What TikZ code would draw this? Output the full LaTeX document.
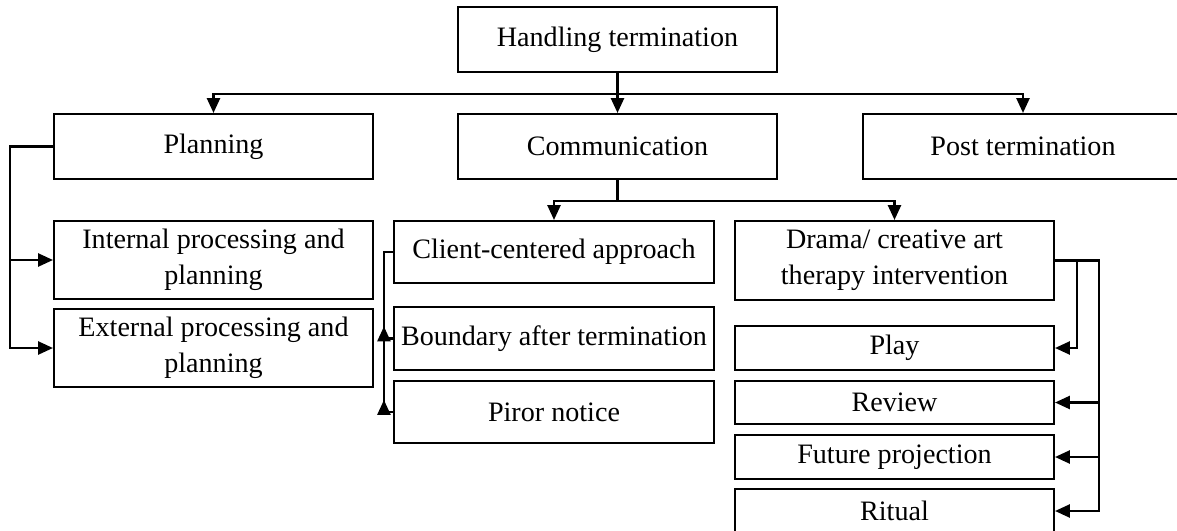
\documentclass[tikz,border=0pt]{standalone}
\usepackage{fontspec}
\setmainfont{Liberation Serif}
\usepackage{tikz}
\usetikzlibrary{arrows.meta, calc}

\begin{document}
\begin{tikzpicture}[x=0.02cm, y=-0.02cm,
    box/.style={rectangle, draw=black, line width=1.2pt, minimum width=319*0.02cm, inner sep=0pt, align=center, font=\fontsize{16}{20.5}\selectfont},
    tall/.style={minimum height=#1*0.02cm},
    wide/.style={minimum width=#1*0.02cm},
    line/.style={line width=1.2pt},
    arr/.style={line width=1.2pt, -{Triangle[length=8.5pt, width=7.5pt]}}]
    \useasboundingbox (0, 0) rectangle (1177, 531);
    \clip (0, 0) rectangle (1177, 531);

    %Nodes
    \node[box, tall=65] at (617.5, 39.5) (handling) {Handling termination};
    \node[box, tall=65] at (213.5, 146.5) (planning) {Planning};
    \node[box, tall=65] at (617.5, 146.5) (comm) {Communication};
    \node[box, tall=65, wide=320] at (1023, 146.5) (post) {Post termination};

    \node[box, tall=78] at (213.5, 260) (internal) {Internal processing and\\planning};
    \node[box, tall=78] at (213.5, 348) (external) {External processing and\\planning};

    \node[box, tall=62, wide=320] at (554, 252) (client) {Client-centered approach};
    \node[box, tall=63, wide=320] at (554, 338.5) (boundary) {Boundary after termination};
    \node[box, tall=62, wide=320] at (554, 412) (piror) {Piror notice};

    \node[box, tall=79] at (894.5, 260.5) (drama) {Drama/ creative art\\therapy intervention};
    \node[box, tall=44] at (894.5, 348) (play) {Play};
    \node[box, tall=43] at (894.5, 402.5) (review) {Review};
    \node[box, tall=44] at (894.5, 457) (future) {Future projection};
    \node[box, tall=44] at (894.5, 511) (ritual) {Ritual};

    %Lines
    \draw[arr] (handling.south) -- ++(0, 21) -| (planning.north);
    \draw[arr] (handling.south) -- (comm.north);
    \draw[arr] (handling.south) -- ++(0, 21) -| (post.north);

    \draw[arr] (comm.south) -- ++(0, 21) -| (client.north);
    \draw[arr] (comm.south) -- ++(0, 21) -| (drama.north);

    \draw[arr] (planning.west) -- ++(-43, 0) |- (internal.west);
    \draw[arr] (planning.west) -- ++(-43, 0) |- (external.west);

    \coordinate (ctrunk) at ($(client.west) + (-9, 0)$);
    \draw[line] (client.west) -- (ctrunk) |- (piror.west);
    \draw[line] (ctrunk) |- (boundary.west);
    \draw[arr] (ctrunk |- boundary.west) -- ++(0, -12);
    \draw[arr] (ctrunk |- piror.west) -- ++(0, -12);

    \draw[arr] (drama.east) -- ++(22, 0) |- (play.east);
    \draw[arr] (drama.east) -- ++(44, 0) |- (review.east);
    \draw[arr] (drama.east) -- ++(44, 0) |- (future.east);
    \draw[arr] (drama.east) -- ++(44, 0) |- (ritual.east);

\end{tikzpicture}
\end{document}
